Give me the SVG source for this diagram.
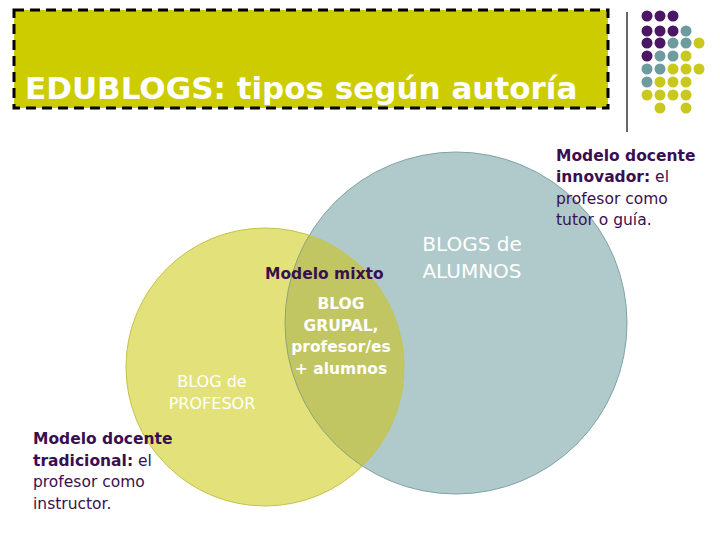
<svg xmlns="http://www.w3.org/2000/svg" width="720" height="540" viewBox="0 0 720 540">
<style>
text{font-family:"DejaVu Sans",sans-serif}
.p{fill:#4B1764}.t{fill:#6E9C9E}.y{fill:#C8C81E}
.lbl{font-size:15.5px;fill:#3A0F50}
.w{fill:#FFFFFF;text-anchor:middle}
</style>
<defs><clipPath id="cy"><circle cx="265" cy="367" r="139"/></clipPath></defs>
<rect width="720" height="540" fill="#fff"/>
<g id="title">
<rect x="14" y="10" width="594" height="98" fill="#CCCC00" stroke="#000" stroke-width="3" stroke-dasharray="10,6"/>
<text x="25" y="99" font-size="31" font-weight="bold" fill="#fff">EDUBLOGS: tipos según autoría</text>
</g>
<line x1="627" y1="12" x2="627" y2="132" stroke="#000" stroke-width="1.2"/>
<g id="dots">
<circle class="p" cx="647" cy="16" r="5.5"/><circle class="p" cx="660" cy="16" r="5.5"/><circle class="p" cx="673" cy="16" r="5.5"/>
<circle class="p" cx="647" cy="31" r="5.5"/><circle class="p" cx="660" cy="31" r="5.5"/><circle class="p" cx="673" cy="31" r="5.5"/><circle class="t" cx="686" cy="31" r="5.5"/>
<circle class="p" cx="647" cy="43" r="5.5"/><circle class="p" cx="660" cy="43" r="5.5"/><circle class="t" cx="673" cy="43" r="5.5"/><circle class="t" cx="686" cy="43" r="5.5"/><circle class="y" cx="699" cy="43" r="5.5"/>
<circle class="p" cx="647" cy="56" r="5.5"/><circle class="t" cx="660" cy="56" r="5.5"/><circle class="t" cx="673" cy="56" r="5.5"/><circle class="y" cx="686" cy="56" r="5.5"/>
<circle class="t" cx="647" cy="69" r="5.5"/><circle class="t" cx="660" cy="69" r="5.5"/><circle class="y" cx="673" cy="69" r="5.5"/><circle class="y" cx="686" cy="69" r="5.5"/><circle class="y" cx="699" cy="69" r="5.5"/>
<circle class="t" cx="647" cy="82" r="5.5"/><circle class="y" cx="660" cy="82" r="5.5"/><circle class="y" cx="673" cy="82" r="5.5"/><circle class="y" cx="686" cy="82" r="5.5"/>
<circle class="y" cx="647" cy="95" r="5.5"/><circle class="y" cx="660" cy="95" r="5.5"/><circle class="y" cx="673" cy="95" r="5.5"/><circle class="y" cx="686" cy="95" r="5.5"/>
<circle class="y" cx="660" cy="108" r="5.5"/><circle class="y" cx="686" cy="108" r="5.5"/>
</g>
<g id="alumnos">
<circle cx="456" cy="323" r="171" fill="#B0CACB" stroke="#80A2A4" stroke-width="1"/>
</g>
<g id="profesor">
<circle cx="265" cy="367" r="139" fill="#E3E27A" stroke="#C2C24A" stroke-width="1"/>
</g>
<g id="grupal">
<circle cx="456" cy="323" r="171" fill="#C1C562" stroke="#8FA27A" stroke-width="1" clip-path="url(#cy)"/>
</g>
<g id="labels">
<text class="w" x="472" y="251" font-size="20">BLOGS de</text>
<text class="w" x="472" y="278" font-size="20">ALUMNOS</text>
<text class="w" x="212" y="387" font-size="16" fill="#F4F4D0">BLOG de</text>
<text class="w" x="212" y="409" font-size="16">PROFESOR</text>
<text class="w" x="341" y="309" font-size="15.5" font-weight="bold">BLOG</text>
<text class="w" x="341" y="331" font-size="15.5" font-weight="bold">GRUPAL,</text>
<text class="w" x="341" y="352" font-size="15.5" font-weight="bold">profesor/es</text>
<text class="w" x="341" y="374" font-size="15.5" font-weight="bold">+ alumnos</text>
<text class="lbl" x="265" y="279" font-size="14.5" font-weight="bold">Modelo mixto</text>
<text class="lbl" x="556" y="161"><tspan font-weight="bold">Modelo docente</tspan></text>
<text class="lbl" x="556" y="182"><tspan font-weight="bold">innovador:</tspan> el</text>
<text class="lbl" x="556" y="204">profesor como</text>
<text class="lbl" x="556" y="225">tutor o guía.</text>
<text class="lbl" x="33" y="444"><tspan font-weight="bold">Modelo docente</tspan></text>
<text class="lbl" x="33" y="466"><tspan font-weight="bold">tradicional:</tspan> el</text>
<text class="lbl" x="33" y="487">profesor como</text>
<text class="lbl" x="33" y="509">instructor.</text>
</g>
</svg>
